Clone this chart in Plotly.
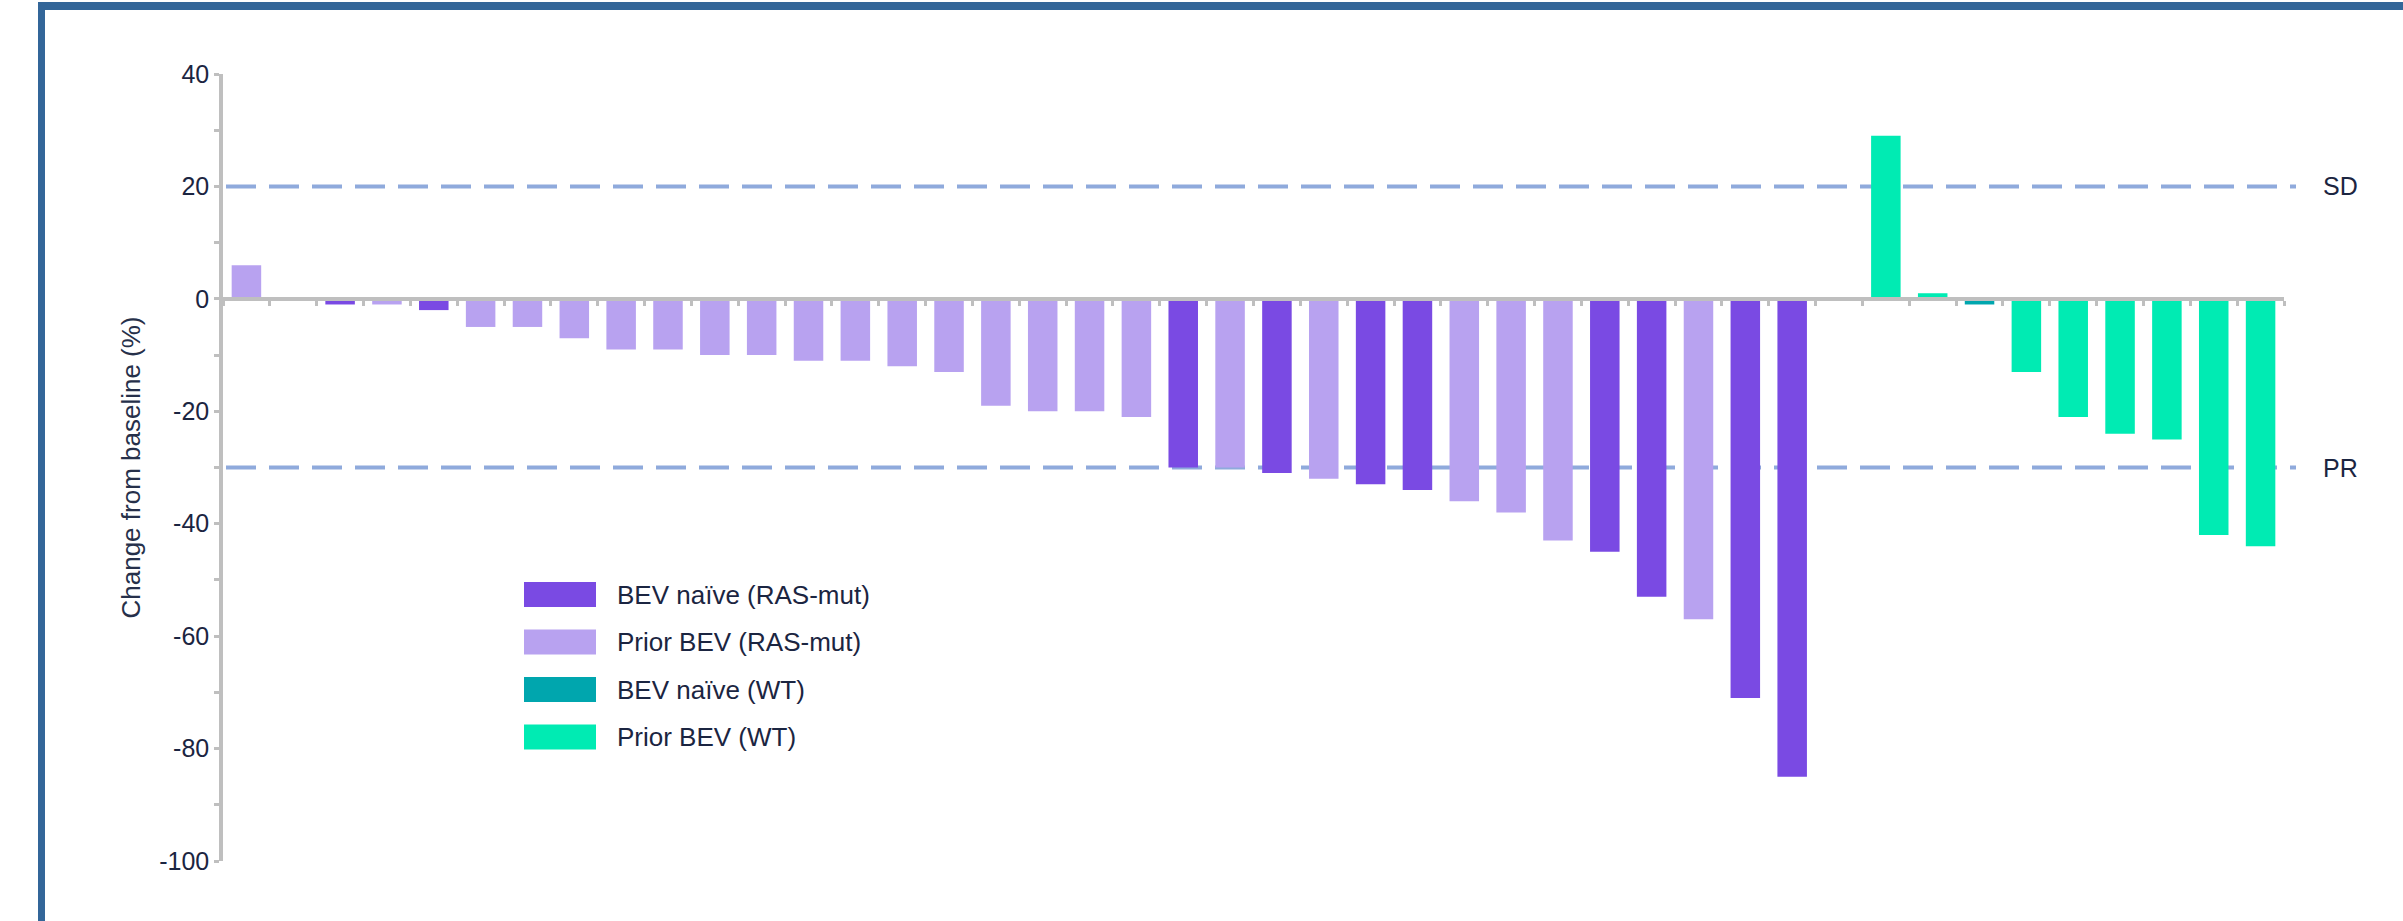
import plotly.graph_objects as go

# ---------------- data ----------------
patients = [f"Pt{i + 1:02d}" for i in range(44)]
change_pct = [6, None, -1, -1, -2, -5, -5, -7, -9, -9, -10, -10, -11, -11, -12, -13,
              -19, -20, -20, -21, -30, -30, -31, -32, -33, -34, -36, -38, -43, -45,
              -53, -57, -71, -85, None, 29, 1, -1, -13, -21, -24, -25, -42, -44]
# index into group_names (-1 = no bar)
patient_group = [1, -1, 0, 1, 0, 1, 1, 1, 1, 1, 1, 1, 1, 1, 1, 1, 1, 1, 1, 1,
                 0, 1, 0, 1, 0, 0, 1, 1, 1, 0, 0, 1, 0, 0, -1,
                 3, 3, 2, 3, 3, 3, 3, 3, 3]
group_names = ["BEV naïve (RAS-mut)", "Prior BEV (RAS-mut)", "BEV naïve (WT)", "Prior BEV (WT)"]
group_colors = ["#7A4AE3", "#B8A2F0", "#00A6AE", "#00EBB3"]
thresholds = [20, -30]
threshold_labels = ["SD", "PR"]
y_tickvals = [40, 20, 0, -20, -40, -60, -80, -100]
y_ticktext = ["40", "20", "0", "-20", "-40", "-60", "-80", "-100"]
y_title = "Change from baseline (%)"

# ---------------- layout geometry (pixels) ----------------
W, H = 2403, 921
L, R, T, B = 223, 119, 74, 60
PW, PH = W - L - R, H - T - B
YMIN, YMAX = -100, 40


def px_x(p):
    return (p - L) / PW


def px_y(p):
    return (H - B - p) / PH


TEXT = "#1B2541"
AXIS = "#BFBFBF"
FONT = "Liberation Sans, Arial, sans-serif"

fig = go.Figure()
for gi, name in enumerate(group_names):
    xs = [p for p, g in zip(patients, patient_group) if g == gi]
    ys = [v for v, g in zip(change_pct, patient_group) if g == gi]
    fig.add_trace(go.Bar(x=xs, y=ys, name=name, marker=dict(color=group_colors[gi], line=dict(width=0)),
                         width=0.63, showlegend=False))

shapes = []
annotations = []
# threshold lines
for val, lab in zip(thresholds, threshold_labels):
    shapes.append(dict(type="line", xref="paper", yref="y", x0=px_x(226), x1=px_x(2296), y0=val, y1=val,
                       line=dict(color="#8FAADC", width=4, dash="30px,13px"), layer="below"))
    annotations.append(dict(xref="paper", yref="y", x=px_x(2321), y=val, text=lab, showarrow=False,
                            xanchor="left", yanchor="middle", font=dict(size=25, color=TEXT, family=FONT)))

# custom legend
for i, (name, col) in enumerate(zip(group_names, group_colors)):
    cy = 594.5 + 47.5 * i
    shapes.append(dict(type="rect", xref="paper", yref="paper", x0=px_x(524), x1=px_x(596),
                       y0=px_y(cy + 12.5), y1=px_y(cy - 12.5), fillcolor=col, line=dict(width=0)))
    annotations.append(dict(xref="paper", yref="paper", x=px_x(615), y=px_y(cy), text=name, showarrow=False,
                            xanchor="left", yanchor="middle", font=dict(size=26, color=TEXT, family=FONT)))

# blue frame (top and left)
shapes.append(dict(type="rect", xref="paper", yref="paper", x0=px_x(38), x1=px_x(2410),
                   y0=px_y(10), y1=px_y(2), fillcolor="#336699", line=dict(width=0), layer="above"))
shapes.append(dict(type="rect", xref="paper", yref="paper", x0=px_x(38), x1=px_x(45),
                   y0=px_y(930), y1=px_y(2), fillcolor="#336699", line=dict(width=0), layer="above"))

fig.update_layout(
    width=W, height=H,
    margin=dict(l=L, r=R, t=T, b=B, pad=0),
    paper_bgcolor="white", plot_bgcolor="white",
    barmode="overlay",
    font=dict(family=FONT, color=TEXT, size=25),
    shapes=shapes, annotations=annotations,
    xaxis=dict(type="category", categoryorder="array", categoryarray=patients,
               range=[-0.5, len(patients) - 0.5],
               showline=True, linecolor=AXIS, linewidth=3.5,
               ticks="outside", tickson="boundaries", ticklen=5, tickwidth=2.5, tickcolor=AXIS,
               showticklabels=False, showgrid=False, zeroline=False,
               anchor="free", position=(0 - YMIN) / (YMAX - YMIN)),
    yaxis=dict(range=[YMIN, YMAX], tickmode="array", tickvals=y_tickvals, ticktext=y_ticktext,
               showline=True, linecolor=AXIS, linewidth=3.5,
               ticks="outside", ticklen=5, tickwidth=2.5, tickcolor=AXIS,
               minor=dict(tickmode="linear", tick0=0, dtick=10, ticks="outside", ticklen=5,
                          tickwidth=2.5, tickcolor=AXIS),
               showgrid=False, zeroline=False,
               tickfont=dict(size=25, color=TEXT, family=FONT),
               title=dict(text=y_title, standoff=12, font=dict(size=26, color="#26304A", family=FONT))),
)

fig.write_html("out.html")
